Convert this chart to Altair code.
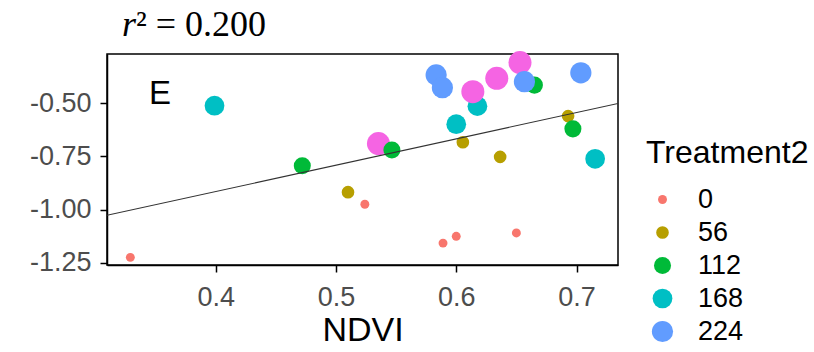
import altair as alt
import pandas as pd

# NDVI vs response, one list pair per nitrogen treatment level
ndvi_0 = [0.329, 0.524, 0.589, 0.600, 0.650]
resp_0 = [-1.225, -0.975, -1.158, -1.126, -1.110]

ndvi_56 = [0.510, 0.6055, 0.6365, 0.693]
resp_56 = [-0.918, -0.683, -0.752, -0.560]

ndvi_112 = [0.472, 0.5465, 0.665, 0.697]
resp_112 = [-0.794, -0.720, -0.414, -0.620]

ndvi_168 = [0.399, 0.600, 0.6176, 0.7155]
resp_168 = [-0.511, -0.598, -0.513, -0.761]

ndvi_224 = [0.5833, 0.5885, 0.6567, 0.7036]
resp_224 = [-0.366, -0.426, -0.398, -0.356]

ndvi_280 = [0.5353, 0.6138, 0.6337, 0.653]
resp_280 = [-0.689, -0.445, -0.382, -0.308]

treatments = [0, 56, 112, 168, 224, 280]
colors = ["#F8766D", "#B79F00", "#00BA38", "#00BFC4", "#619CFF", "#F564E3"]
sizes = [80, 160, 290, 390, 450, 530]

# fitted linear model
fit_intercept = -1.411
fit_slope = 1.240
r_squared = 0.200

x_domain = [0.3096, 0.7345]
y_domain = [-1.261, -0.2675]

groups = {
    168: (ndvi_168, resp_168),
    280: (ndvi_280, resp_280),
    56: (ndvi_56, resp_56),
    112: (ndvi_112, resp_112),
    0: (ndvi_0, resp_0),
    224: (ndvi_224, resp_224),
}
rows = []
for trt, (xs, ys) in groups.items():
    for xv, yv in zip(xs, ys):
        rows.append({"NDVI": xv, "resp": yv, "Treatment2": trt})
points_df = pd.DataFrame(rows)

fit_df = pd.DataFrame({
    "NDVI": x_domain,
    "resp": [fit_intercept + fit_slope * v for v in x_domain],
})

x_scale = alt.Scale(domain=x_domain, nice=False, zero=False)
y_scale = alt.Scale(domain=y_domain, nice=False, zero=False)

x_enc = alt.X("NDVI:Q", scale=x_scale, title="NDVI",
              axis=alt.Axis(values=[0.4, 0.5, 0.6, 0.7], format=".1f",
                            labelPadding=12, titlePadding=3))
y_enc = alt.Y("resp:Q", scale=y_scale, title=None,
              axis=alt.Axis(values=[-1.25, -1.0, -0.75, -0.5],
                            labelExpr="replace(format(datum.value, '.2f'), '\u2212', '-')",
                            labelPadding=9))

points = alt.Chart(points_df).mark_circle(opacity=1, strokeWidth=0).encode(
    x=x_enc,
    y=y_enc,
    color=alt.Color("Treatment2:O",
                    scale=alt.Scale(type="ordinal", domain=treatments, range=colors),
                    title="Treatment2"),
    size=alt.Size("Treatment2:O",
                  scale=alt.Scale(type="ordinal", domain=treatments, range=sizes),
                  title="Treatment2"),
)

fit_line = alt.Chart(fit_df).mark_line(color="#333333", strokeWidth=1.1, clip=True).encode(
    x=alt.X("NDVI:Q", scale=x_scale),
    y=alt.Y("resp:Q", scale=y_scale),
)

panel_tag = alt.Chart(pd.DataFrame({"t": ["E"]})).mark_text(
    font="Liberation Sans", fontSize=33, align="left", baseline="alphabetic", color="black"
).encode(x=alt.value(42), y=alt.value(50), text="t:N")

r_part = alt.Chart(pd.DataFrame({"t": ["r"]})).mark_text(
    font="Liberation Serif", fontSize=36, fontStyle="italic", align="left",
    baseline="alphabetic", color="black"
).encode(x=alt.value(15), y=alt.value(-18), text="t:N")

value_part = alt.Chart(pd.DataFrame({"t": [f"\u00b2 = {r_squared:.3f}"]})).mark_text(
    font="Liberation Serif", fontSize=36, align="left", baseline="alphabetic", color="black"
).encode(x=alt.value(29), y=alt.value(-18), text="t:N")

chart = (
    alt.layer(points, fit_line, panel_tag, r_part, value_part)
    .properties(
        width=511,
        height=211,
        autosize=alt.AutoSizeParams(type="none"),
        padding={"left": 107, "top": 54, "right": 196, "bottom": 87},
    )
    .configure_view(stroke="black", strokeWidth=1.5)
    .configure_axis(
        grid=False,
        labelFont="Liberation Sans",
        labelFontSize=27,
        labelColor="#4D4D4D",
        titleFont="Liberation Sans",
        titleFontSize=34,
        titleFontWeight="normal",
        titleColor="black",
        tickColor="black",
        tickSize=7,
        tickWidth=1.5,
        domainColor="black",
        domainWidth=1.5,
    )
    .configure_legend(
        orient="none",
        legendX=539,
        legendY=84,
        titleFont="Liberation Sans",
        titleFontSize=32,
        titleFontWeight="normal",
        titleColor="black",
        labelFont="Liberation Sans",
        labelFontSize=27,
        labelColor="black",
        labelOffset=22,
        symbolOffset=3,
        rowPadding=5,
        titlePadding=16,
        symbolStrokeWidth=0,
        symbolOpacity=1,
    )
)

chart.save("out.html", embed_options={"renderer": "svg", "actions": False})
